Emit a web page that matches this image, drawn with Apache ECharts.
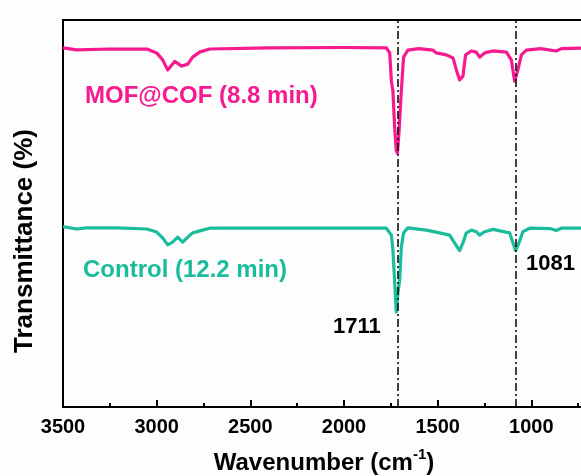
<!DOCTYPE html>
<html>
<head>
<meta charset="utf-8">
<script src="https://cdn.jsdelivr.net/npm/echarts@6/dist/echarts.min.js"></script>
<style>
html,body{margin:0;padding:0;background:#fdfdfd;}
#c{width:581px;height:476px;}
</style>
</head>
<body>
<div id="c"></div>
<script>
// Wavenumber (cm-1) and transmittance (arbitrary offset units)
const mofWavenumber = [3500,3427,3250,3053,3000,2968,2941,2904,2866,2834,2808,2771,2717,2400,2000,1774,1756,1747,1739,1730,1721,1715,1707,1694,1682,1659,1600,1525,1507,1454,1418,1400,1383,1365,1351,1320,1294,1276,1249,1205,1133,1107,1089,1081,1072,1053,1027,950,867,840,700];
const mofTransmittance = [92.8,92.3,92.5,92.5,91.5,89.7,87.1,89.3,88.1,88.6,90.4,91.7,92.5,92.8,92.9,92.8,91.5,84.2,81.7,72.6,66.2,65.6,70.5,81.7,90.4,92.2,92.6,92.2,91.5,91.0,90.2,87.1,84.5,85.5,91.0,92.0,91.7,90.4,91.5,92.0,91.7,89.7,84.2,83.7,87.1,91.0,92.2,92.6,92.0,92.6,92.8];

const ctrlWavenumber = [3500,3427,3374,3213,3053,3000,2968,2941,2915,2888,2861,2834,2808,2755,2717,2000,1774,1747,1739,1730,1721,1712,1703,1694,1682,1659,1560,1490,1436,1410,1383,1365,1347,1320,1294,1276,1249,1205,1116,1098,1084,1066,1045,1009,900,867,840,700];
const ctrlTransmittance = [46.6,46.0,46.3,46.3,46.0,45.2,43.7,41.9,42.6,43.9,42.6,43.9,45.0,45.7,46.2,46.2,46.2,44.4,40.6,32.8,24.6,29.5,32.8,41.3,45.0,46.3,45.7,45.0,44.4,42.4,40.4,42.4,45.0,45.7,45.3,44.4,45.3,45.9,45.0,42.4,40.4,42.4,45.3,46.2,46.1,45.6,46.2,46.2];

const peakLines = [1711, 1081];
const seriesNames = ['MOF@COF (8.8 min)', 'Control (12.2 min)'];
const xTicks = {min: 500, max: 3500, interval: 500};

const FONT = '"Liberation Sans", Arial, sans-serif';
const PINK = '#F7198F';
const TEAL = '#1BBC9B';

function pairs(xs, ys){ return xs.map((x,i)=>[x, ys[i]]); }

const chart = echarts.init(document.getElementById('c'), null, {renderer:'canvas'});
chart.setOption({
  backgroundColor: '#fdfdfd',
  animation: false,
  grid: {left: 63, right: -44, top: 20, bottom: 69, show: true, borderColor: '#000', borderWidth: 2, backgroundColor: 'transparent', outerBoundsMode: 'none', containLabel: false},
  xAxis: {
    type: 'value', inverse: true, min: xTicks.min, max: xTicks.max, interval: xTicks.interval,
    axisLine: {show: true, lineStyle: {color: '#000', width: 2}},
    axisTick: {show: true, inside: true, length: 7, lineStyle: {color: '#000', width: 2}},
    minorTick: {show: true, splitNumber: 2, length: 4, lineStyle: {color: '#000', width: 2}},
    splitLine: {show: false}, minorSplitLine: {show: false},
    axisLabel: {color: '#000', fontSize: 20, fontWeight: 'bold', fontFamily: FONT, margin: 10, formatter: v => String(v)}
  },
  yAxis: {
    type: 'value', min: 0, max: 100,
    axisLine: {show: true, lineStyle: {color: '#000', width: 2}},
    axisTick: {show: false}, axisLabel: {show: false}, splitLine: {show: false}
  },
  series: [
    {
      name: seriesNames[0], type: 'line', data: pairs(mofWavenumber, mofTransmittance),
      showSymbol: false, symbol: 'none', lineStyle: {color: PINK, width: 3.2, join: 'round'}, itemStyle: {color: PINK},
      markLine: {
        silent: true, symbol: 'none', label: {show: false},
        lineStyle: {color: '#000', width: 1.5, type: [8, 3, 2, 3]},
        data: peakLines.map(v => ({xAxis: v}))
      },
      z: 2
    },
    {
      name: seriesNames[1], type: 'line', data: pairs(ctrlWavenumber, ctrlTransmittance),
      showSymbol: false, symbol: 'none', lineStyle: {color: TEAL, width: 3.2, join: 'round'}, itemStyle: {color: TEAL},
      z: 2
    }
  ],
  graphic: [
    {type: 'text', x: 85, y: 96, style: {text: seriesNames[0], fill: PINK, font: 'bold 24px ' + FONT, textVerticalAlign: 'middle', textAlign: 'left'}},
    {type: 'text', x: 83, y: 270, style: {text: seriesNames[1], fill: TEAL, font: 'bold 24px ' + FONT, textVerticalAlign: 'middle', textAlign: 'left'}},
    {type: 'text', x: 333, y: 327, style: {text: String(peakLines[0]), fill: '#000', font: 'bold 22px ' + FONT, textVerticalAlign: 'middle', textAlign: 'left'}},
    {type: 'text', x: 526, y: 264, style: {text: String(peakLines[1]), fill: '#000', font: 'bold 22px ' + FONT, textVerticalAlign: 'middle', textAlign: 'left'}},
    {type: 'text', x: 24.5, y: 241, rotation: Math.PI/2, style: {text: 'Transmittance (%)', fill: '#000', font: 'bold 26px ' + FONT, textVerticalAlign: 'middle', textAlign: 'center'}},
    {type: 'text', x: 324, y: 461, style: {
      text: '{a|Wavenumber (cm}{s|-1}{a|)}', textAlign: 'center', textVerticalAlign: 'middle',
      rich: {
        a: {fontSize: 24, fontWeight: 'bold', fontFamily: FONT, fill: '#000', color: '#000', lineHeight: 28, verticalAlign: 'bottom'},
        s: {fontSize: 15, fontWeight: 'bold', fontFamily: FONT, fill: '#000', color: '#000', lineHeight: 28, verticalAlign: 'top'}
      }
    }}
  ]
});
</script>
</body>
</html>
